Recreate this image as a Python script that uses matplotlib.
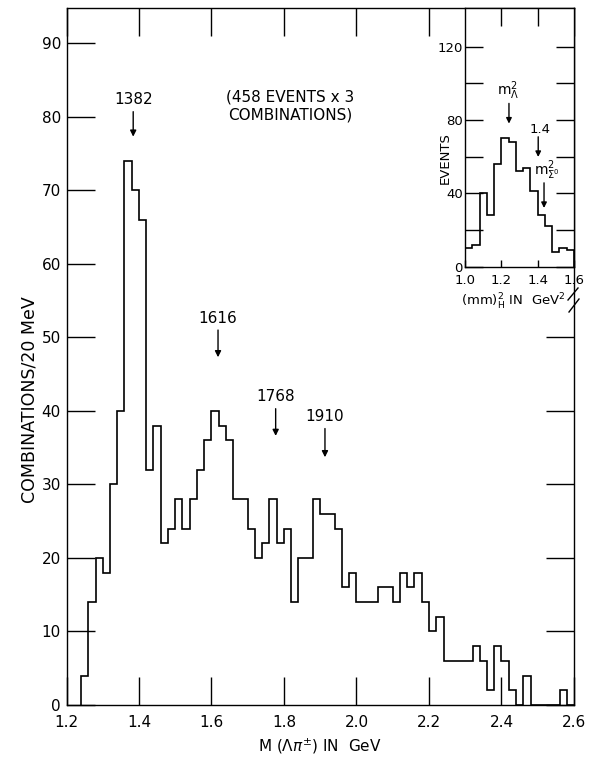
import numpy as np
import matplotlib
matplotlib.use("Agg")
import matplotlib.pyplot as plt
from matplotlib.lines import Line2D

# main histogram: M(Lambda pi) in 20 MeV bins starting at 1.24 GeV
main_start = 1.24
main_width = 0.02
main_counts = [4, 14, 20, 18, 30, 40, 74, 70, 66, 32,
               38, 22, 24, 28, 24, 28, 32, 36, 40, 38,
               36, 28, 28, 24, 20, 22, 28, 22, 24, 14,
               20, 20, 28, 26, 26, 24, 16, 18, 14, 14,
               14, 16, 16, 14, 18, 16, 18, 14, 10, 12,
               6, 6, 6, 6, 8, 6, 2, 8, 6, 2,
               0, 4, 0, 0, 0, 0, 2, 0]

# inset: (mm)^2_H, 0.04 GeV^2 bins from 1.0
inset_start = 1.0
inset_width = 0.04
inset_counts = [10, 12, 40, 28, 56, 70, 68, 52, 54, 41, 28, 22, 8, 10, 9]

peak_labels = ["1382", "1616", "1768", "1910"]
peak_x = [1.384, 1.618, 1.777, 1.913]
peak_arrow_top = [80.7, 51.0, 40.3, 37.6]
peak_arrow_tip = [77.3, 47.3, 36.6, 33.7]

main_xticks = [1.2, 1.4, 1.6, 1.8, 2.0, 2.2, 2.4, 2.6]
main_yticks = [0, 10, 20, 30, 40, 50, 60, 70, 80, 90]
inset_xticks = [1.0, 1.2, 1.4, 1.6]
inset_ylabels = [0, 40, 80, 120]
inset_yminor = [20, 60, 100]

W, H = 593, 759
fig = plt.figure(figsize=(W / 100, H / 100), dpi=100)
fig.patch.set_facecolor("white")


def fx(px):
    return px / W


def fy(py):
    return 1 - py / H


# ---- main axes
ax = fig.add_axes([fx(66.5), fy(705), fx(574) - fx(66.5), fy(8) - fy(705)])
edges = main_start + main_width * np.arange(len(main_counts) + 1)
ax.stairs(main_counts, edges, baseline=0, color="black", lw=1.2)
ax.set_xlim(1.2, 2.6)
ax.set_ylim(0, 94.8)
ax.set_xticks(main_xticks)
ax.set_xticklabels([f"{v:.1f}" for v in main_xticks])
ax.set_yticks(main_yticks)
ax.tick_params(direction="in", length=20, width=1, top=True, right=True,
               labelsize=11, colors="black")
ax.tick_params(axis="x", pad=7)
ax.tick_params(axis="y", pad=4)
for s in ax.spines.values():
    s.set_linewidth(1)

for lab, x, yt, yh in zip(peak_labels, peak_x, peak_arrow_top, peak_arrow_tip):
    ax.annotate("", xy=(x, yh), xytext=(x, yt),
                arrowprops=dict(arrowstyle="-|>", color="black", lw=1,
                                mutation_scale=9, shrinkA=0, shrinkB=0))
    ax.text(x, yt + 0.6, lab, ha="center", va="bottom", fontsize=11)

ax.text(1.8166, 81.5, "(458 EVENTS x 3\nCOMBINATIONS)", ha="center",
        va="center", fontsize=11, linespacing=1.25)

fig.text(fx(30), fy(400), "COMBINATIONS/20 MeV", rotation=90,
         ha="center", va="center", fontsize=12.5)
fig.text(fx(320), fy(746), r"M ($\Lambda\pi^{\pm}$) IN  GeV",
         ha="center", va="center", fontsize=11)

# ---- inset
ax2 = fig.add_axes([fx(465), fy(266.7), fx(574) - fx(465), fy(8) - fy(266.7)])
ax2.set_facecolor("white")
iedges = inset_start + inset_width * np.arange(len(inset_counts) + 1)
ax2.stairs(inset_counts, iedges, baseline=0, color="black", lw=1.2)
ax2.set_xlim(1.0, 1.6)
ax2.set_ylim(0, 141)
ax2.set_xticks(inset_xticks)
ax2.set_xticklabels([f"{v:.1f}" for v in inset_xticks])
ax2.set_yticks(inset_ylabels)
ax2.set_yticks(inset_yminor, minor=True)
ax2.tick_params(axis="y", which="both", direction="in", length=13, width=1,
                left=True, right=True, labelsize=9.5, pad=1.5)
ax2.tick_params(axis="x", direction="in", length=5, width=1,
                labelsize=9.5, pad=5)
sec = ax2.secondary_xaxis("top")
sec.set_xticks([1.2, 1.4])
sec.tick_params(direction="in", length=13, width=1, labeltop=False)
sec.spines["top"].set_visible(False)
ax2.spines["bottom"].set_linestyle((0, (1, 1)))
for s in ax2.spines.values():
    s.set_linewidth(1)

ax2.annotate("", xy=(1.242, 78), xytext=(1.242, 89),
             arrowprops=dict(arrowstyle="-|>", color="black", lw=1,
                             mutation_scale=8, shrinkA=0, shrinkB=0))
ax2.text(1.237, 90, r"$\mathrm{m}^2_\Lambda$", ha="center", va="bottom",
         fontsize=10)
ax2.annotate("", xy=(1.403, 59.8), xytext=(1.403, 70.8),
             arrowprops=dict(arrowstyle="-|>", color="black", lw=1,
                             mutation_scale=8, shrinkA=0, shrinkB=0))
ax2.text(1.413, 71.5, "1.4", ha="center", va="bottom", fontsize=9.5)
ax2.annotate("", xy=(1.435, 32), xytext=(1.435, 45.7),
             arrowprops=dict(arrowstyle="-|>", color="black", lw=1,
                             mutation_scale=8, shrinkA=0, shrinkB=0))
ax2.text(1.45, 46, r"$\mathrm{m}^2_{\Sigma^0}$", ha="center", va="bottom",
         fontsize=10)

ax2.text(-0.18, 0.42, "EVENTS", rotation=90, ha="center", va="center",
         fontsize=9.5, transform=ax2.transAxes)
ax2.text(0.44, -0.136, r"(mm)$^2_\mathrm{H}$ IN  GeV$^2$", ha="center",
         va="center", fontsize=9.5, transform=ax2.transAxes)

# axis break marks on right spine
for (x0, y0, x1, y1) in [(568, 300, 578, 288), (569, 312, 579, 299)]:
    fig.add_artist(Line2D([fx(x0), fx(x1)], [fy(y0), fy(y1)],
                          transform=fig.transFigure, color="black", lw=1))

fig.savefig("out.png", dpi=100, facecolor="white")
